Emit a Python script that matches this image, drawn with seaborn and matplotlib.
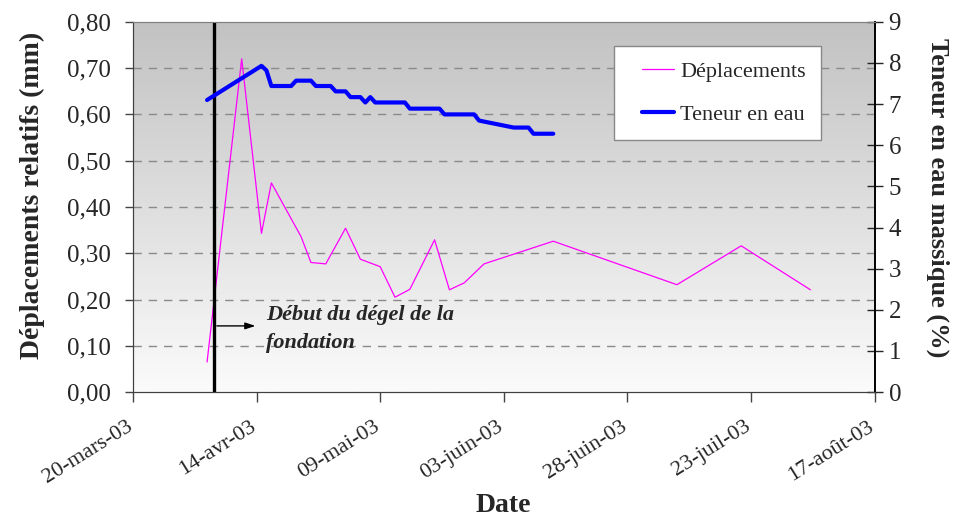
import numpy as np
import pandas as pd
import matplotlib
matplotlib.use("Agg")
import matplotlib.pyplot as plt
import matplotlib.dates as mdates
import matplotlib.transforms as mtransforms
from matplotlib.ticker import FuncFormatter, MultipleLocator
from matplotlib.legend_handler import HandlerLine2D
import seaborn as sns

# Déplacements relatifs (mm)
disp_dates = ['2003-04-04', '2003-04-11', '2003-04-15', '2003-04-17', '2003-04-23',
              '2003-04-25', '2003-04-28', '2003-05-02', '2003-05-05', '2003-05-09',
              '2003-05-12', '2003-05-15', '2003-05-20', '2003-05-23', '2003-05-26',
              '2003-05-30', '2003-06-13', '2003-07-08', '2003-07-21', '2003-08-04']
disp_vals = [0.065, 0.720, 0.343, 0.452, 0.336, 0.280, 0.277, 0.354, 0.287, 0.271,
             0.205, 0.222, 0.329, 0.221, 0.236, 0.277, 0.326, 0.232, 0.316, 0.221]

# Teneur en eau massique (%)
water_dates = ['2003-04-04', '2003-04-15', '2003-04-16', '2003-04-17', '2003-04-21',
               '2003-04-22', '2003-04-25', '2003-04-26', '2003-04-29', '2003-04-30',
               '2003-05-02', '2003-05-03', '2003-05-05', '2003-05-06', '2003-05-07',
               '2003-05-08', '2003-05-14', '2003-05-15', '2003-05-21', '2003-05-22',
               '2003-05-28', '2003-05-29', '2003-06-05', '2003-06-08', '2003-06-09',
               '2003-06-13']
water_vals = [7.10, 7.93, 7.82, 7.44, 7.44, 7.57, 7.57, 7.44, 7.44, 7.31,
              7.31, 7.17, 7.17, 7.04, 7.17, 7.04, 7.04, 6.89, 6.89, 6.75,
              6.75, 6.60, 6.43, 6.43, 6.28, 6.28]

thaw_date = '2003-04-05'
x_start, x_end = '2003-03-20', '2003-08-17'
mois = {3: 'mars', 4: 'avr', 5: 'mai', 6: 'juin', 7: 'juil', 8: 'août'}

df_disp = pd.DataFrame({'Date': pd.to_datetime(disp_dates), 'val': disp_vals})
df_water = pd.DataFrame({'Date': pd.to_datetime(water_dates), 'val': water_vals})

sns.set_style("ticks")
plt.rcParams['font.family'] = ['Liberation Serif', 'DejaVu Serif']

fig = plt.figure(figsize=(9.56, 5.2), dpi=100)
ax = fig.add_axes([0.139, 0.246, 0.776, 0.712])
ax2 = ax.twinx()

# gradient background
grad = np.linspace(0, 1, 256).reshape(-1, 1)
cmap = matplotlib.colors.LinearSegmentedColormap.from_list('g', ['#fbfbfb', '#c2c2c2'])
ax.imshow(grad, aspect='auto', cmap=cmap, origin='lower', extent=[0, 1, 0, 1],
          transform=ax.transAxes, zorder=-10)

sns.lineplot(data=df_disp, x='Date', y='val', ax=ax, color='#ff00ff', linewidth=0.9,
             label='Déplacements', legend=False)
sns.lineplot(data=df_water, x='Date', y='val', ax=ax2, color='#0000ff', linewidth=3,
             label='Teneur en eau', legend=False, solid_capstyle='round', solid_joinstyle='round')

thaw = pd.Timestamp(thaw_date) + pd.Timedelta(hours=10)
ax.axvline(thaw, color='black', linewidth=2.4, zorder=5)

ax.set_xlim(pd.Timestamp(x_start), pd.Timestamp(x_end))
ax.set_ylim(0, 0.8)
ax2.set_ylim(0, 9)

ax.set_xticks(pd.date_range(x_start, x_end, freq='25D'))
ax.xaxis.set_major_formatter(FuncFormatter(
    lambda v, p: (lambda d: f"{d.day:02d}-{mois[d.month]}-{d.strftime('%y')}")(mdates.num2date(v))))
ax.yaxis.set_major_locator(MultipleLocator(0.1))
ax.yaxis.set_major_formatter(FuncFormatter(lambda v, p: f"{v:.2f}".replace('.', ',')))
ax2.yaxis.set_major_locator(MultipleLocator(1))

for y in np.arange(0.1, 0.75, 0.1):
    ax.axhline(y, color='#8a8a8a', linewidth=1, linestyle=(0, (6, 5)), zorder=-5)

ax.tick_params(axis='y', direction='out', length=6, width=1, labelsize=18, pad=10, color='#444444')
ax.tick_params(axis='x', direction='out', length=7, width=1, labelsize=16, pad=11, color='#444444')
ax2.tick_params(axis='y', direction='inout', length=12, width=1, labelsize=18, pad=4)
shift = mtransforms.ScaledTranslation(-7 / 100, 0, fig.dpi_scale_trans)
for lab in ax.get_xticklabels():
    lab.set_rotation(32)
    lab.set_ha('right')
    lab.set_rotation_mode('anchor')
    lab.set_transform(lab.get_transform() + shift)

for a in (ax, ax2):
    a.spines['top'].set_color('#808080')
    a.spines['left'].set_color('#404040')
    a.spines['bottom'].set_color('#404040')
    a.spines['right'].set_color('black')
    a.spines['right'].set_linewidth(1.2)

ax.set_xlabel('Date', fontsize=20, fontweight='bold')
ax.xaxis.set_label_coords(0.5, -0.272)
ax.set_ylabel('Déplacements relatifs (mm)', fontsize=20, fontweight='bold')
ax.yaxis.set_label_coords(-0.118, 0.53)
ax2.set_ylabel('Teneur en eau massique (%)', fontsize=19, fontweight='bold', rotation=-90)
ax2.yaxis.set_label_coords(1.1, 0.525)

# annotation
ax.annotate('', xy=(pd.Timestamp('2003-04-14') + pd.Timedelta(hours=8), 0.143),
            xytext=(thaw, 0.143),
            arrowprops=dict(arrowstyle='-|>,head_width=0.2,head_length=0.6', color='black', lw=1))
ax.text(pd.Timestamp('2003-04-16'), 0.136, 'Début du dégel de la\nfondation', fontsize=16,
        fontweight='bold', fontstyle='italic', ha='left', va='center', linespacing=1.55,
        zorder=6)

handles = ax.get_lines()[:1] + ax2.get_lines()[:1]
leg = ax2.legend(handles, ['Déplacements', 'Teneur en eau'], loc='upper left',
                 bbox_to_anchor=(0.648, 0.935), fontsize=16, frameon=True, fancybox=False,
                 edgecolor='#888888', framealpha=1, handlelength=2.0, labelspacing=1.0,
                 borderpad=0.7, borderaxespad=0, handletextpad=0.3,
                 handler_map={h: HandlerLine2D(xpad=0.6) for h in handles})
leg.get_frame().set_linewidth(1)

fig.savefig('out.png', dpi=100)
